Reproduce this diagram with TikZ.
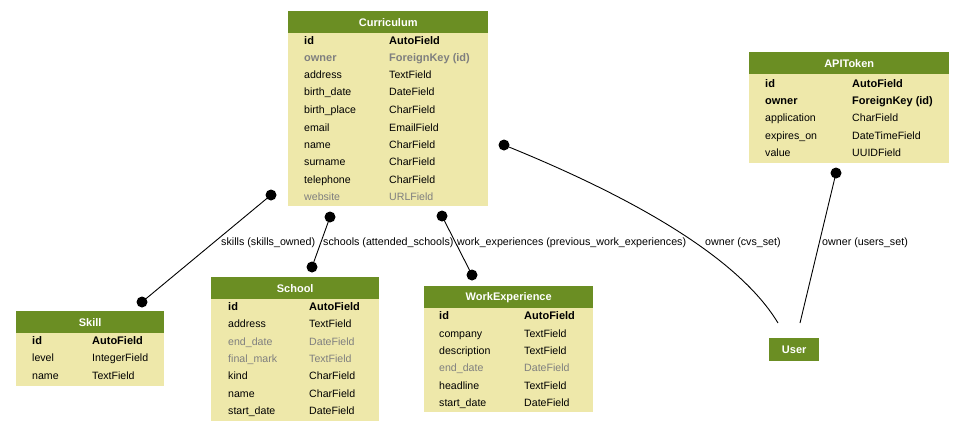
\documentclass[tikz,border=0pt]{standalone}
\usepackage{fontspec}
\setmainfont{Liberation Sans}
\definecolor{hdr}{HTML}{6B8E23}
\definecolor{bdy}{HTML}{EEE8AA}
\definecolor{gry}{HTML}{7F7F7F}
\newcommand\fldrow[7]{%
  \node[#2, anchor=base west] (#1n) at (#3,#5) {#6};
  \node[#2, anchor=base west] (#1t) at (#4,#5) {#7};}
\tikzset{
  hdrbox/.style={fill=hdr, draw=none, inner sep=0pt, anchor=north west, text=white,
    font=\bfseries\fontsize{11}{12}\selectfont},
  bdybox/.style={fill=bdy, draw=none, inner sep=0pt, anchor=north west},
  pk/.style={inner sep=0pt, text=black, font=\bfseries\fontsize{11}{12}\selectfont},
  fk/.style={inner sep=0pt, text=gry, font=\bfseries\fontsize{11}{12}\selectfont},
  plain/.style={inner sep=0pt, text=black, font=\fontsize{10.6}{12}\selectfont},
  dim/.style={inner sep=0pt, text=gry, font=\fontsize{10.6}{12}\selectfont},
  rel/.style={draw=black, line width=0.9pt},
  dotend/.style={fill=black, draw=none, circle, inner sep=0pt, minimum size=11pt},
  elabel/.style={inner sep=0pt, anchor=base west, font=\fontsize{10.7}{12}\selectfont}
}
\begin{document}
\begin{tikzpicture}[x=1pt,y=-1pt]
\useasboundingbox (0,0) rectangle (965,432);
% Curriculum
\node[hdrbox, minimum width=200pt, minimum height=22pt] (curh) at (288,11) {Curriculum};
\node[bdybox, minimum width=200pt, minimum height=173pt] (curb) at (288,33) {};
\fldrow{cur1}{pk}{304}{389}{44}{id}{AutoField}
\fldrow{cur2}{fk}{304}{389}{61}{owner}{ForeignKey (id)}
\fldrow{cur3}{plain}{304}{389}{78}{address}{TextField}
\fldrow{cur4}{plain}{304}{389}{95}{birth\_date}{DateField}
\fldrow{cur5}{plain}{304}{389}{113}{birth\_place}{CharField}
\fldrow{cur6}{plain}{304}{389}{131}{email}{EmailField}
\fldrow{cur7}{plain}{304}{389}{148}{name}{CharField}
\fldrow{cur8}{plain}{304}{389}{165}{surname}{CharField}
\fldrow{cur9}{plain}{304}{389}{183}{telephone}{CharField}
\fldrow{cur10}{dim}{304}{389}{200}{website}{URLField}
% APIToken
\node[hdrbox, minimum width=200pt, minimum height=22pt] (apih) at (749,52) {APIToken};
\node[bdybox, minimum width=200pt, minimum height=89pt] (apib) at (749,74) {};
\fldrow{api1}{pk}{765}{852}{87}{id}{AutoField}
\fldrow{api2}{pk}{765}{852}{104}{owner}{ForeignKey (id)}
\fldrow{api3}{plain}{765}{852}{121}{application}{CharField}
\fldrow{api4}{plain}{765}{852}{139}{expires\_on}{DateTimeField}
\fldrow{api5}{plain}{765}{852}{156}{value}{UUIDField}
% User
\node[hdrbox, minimum width=50pt, minimum height=23pt] (user) at (769,338) {User};
% Skill
\node[hdrbox, minimum width=148pt, minimum height=22pt] (skh) at (16,311) {Skill};
\node[bdybox, minimum width=148pt, minimum height=53pt] (skb) at (16,333) {};
\fldrow{sk1}{pk}{32}{92}{344}{id}{AutoField}
\fldrow{sk2}{plain}{32}{92}{361}{level}{IntegerField}
\fldrow{sk3}{plain}{32}{92}{379}{name}{TextField}
% School
\node[hdrbox, minimum width=168pt, minimum height=22pt] (sch) at (211,277) {School};
\node[bdybox, minimum width=168pt, minimum height=122pt] (scb) at (211,299) {};
\fldrow{sc1}{pk}{228}{309}{310}{id}{AutoField}
\fldrow{sc2}{plain}{228}{309}{327}{address}{TextField}
\fldrow{sc3}{dim}{228}{309}{345}{end\_date}{DateField}
\fldrow{sc4}{dim}{228}{309}{362}{final\_mark}{TextField}
\fldrow{sc5}{plain}{228}{309}{379}{kind}{CharField}
\fldrow{sc6}{plain}{228}{309}{397}{name}{CharField}
\fldrow{sc7}{plain}{228}{309}{414}{start\_date}{DateField}
% WorkExperience
\node[hdrbox, minimum width=169pt, minimum height=22pt] (weh) at (424,286) {WorkExperience};
\node[bdybox, minimum width=169pt, minimum height=104pt] (web) at (424,308) {};
\fldrow{we1}{pk}{439}{524}{319}{id}{AutoField}
\fldrow{we2}{plain}{439}{524}{337}{company}{TextField}
\fldrow{we3}{plain}{439}{524}{354}{description}{TextField}
\fldrow{we4}{dim}{439}{524}{371}{end\_date}{DateField}
\fldrow{we5}{plain}{439}{524}{389}{headline}{TextField}
\fldrow{we6}{plain}{439}{524}{406}{start\_date}{DateField}
% connector end points
\coordinate (e1a) at (271,195);
\coordinate (e1b) at (142,302);
\coordinate (e2a) at (330,217);
\coordinate (e2b) at (312,267);
\coordinate (e3a) at (442,216);
\coordinate (e3b) at (472,275);
\coordinate (e4a) at (504,145);
\coordinate (e4b) at (778,323);
\coordinate (e5a) at (836,173);
\coordinate (e5b) at (800,323);
% connectors
\draw[rel] (e1a) -- (e1b);
\draw[rel] (e2a) -- (e2b);
\draw[rel] (e3a) -- (e3b);
\draw[rel] (e4a) .. controls (640,200) and (740,260) .. (e4b);
\draw[rel] (e5a) -- (e5b);
\node[dotend] (d1a) at (e1a) {};
\node[dotend] (d1b) at (e1b) {};
\node[dotend] (d2a) at (e2a) {};
\node[dotend] (d2b) at (e2b) {};
\node[dotend] (d3a) at (e3a) {};
\node[dotend] (d3b) at (e3b) {};
\node[dotend] (d4a) at (e4a) {};
\node[dotend] (d5a) at (e5a) {};
% labels
\node[elabel] (l1) at (221,245) {skills (skills\_owned)};
\node[elabel] (l2) at (323,245) {schools (attended\_schools)};
\node[elabel] (l3) at (457,245) {work\_experiences (previous\_work\_experiences)};
\node[elabel] (l4) at (705,245) {owner (cvs\_set)};
\node[elabel] (l5) at (822,245) {owner (users\_set)};
\end{tikzpicture}
\end{document}
